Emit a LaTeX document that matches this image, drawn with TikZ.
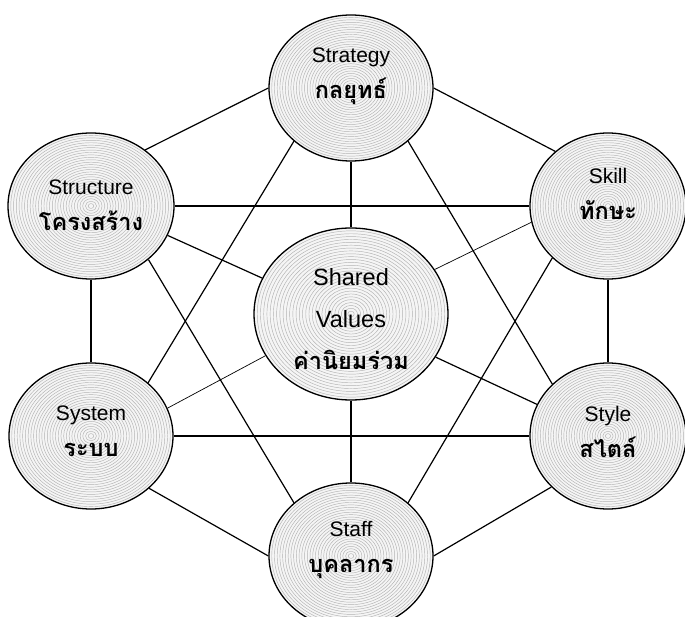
\documentclass[tikz,border=0pt]{standalone}
\usepackage{fontspec}
\setmainfont{Liberation Sans}
\newfontfamily\thai[Script=Thai]{Loma}
\usetikzlibrary{shapes.geometric,backgrounds}
\definecolor{ringfill}{gray}{0.96}
\definecolor{ringline}{gray}{0.70}
\tikzset{
  ov/.style 2 args={ellipse, draw=black, line width=1.3pt, fill=ringfill,
    inner sep=0pt, minimum width=2*#1pt, minimum height=2*#2pt,
    path picture={
      \foreach \k in {1,...,30}{
        \draw[ringline, line width=0.45pt] (path picture bounding box.center)
          ellipse [x radius={\k/30*#1pt}, y radius={\k/30*#2pt}];
      }
    }},
  lbl/.style={align=center, inner sep=0pt, font=\fontsize{21}{36}\selectfont},
  biglbl/.style={align=center, inner sep=0pt, font=\fontsize{23.5}{42}\selectfont},
  link/.style={line width=1.2pt, black},
  thinlink/.style={line width=0.7pt, black}
}
\newcommand{\thtext}[1]{{\thai\bfseries\fontsize{23.5}{36}\selectfont #1}}
\begin{document}
\begin{tikzpicture}[x=1pt,y=-1pt]
\clip (0,0) rectangle (685,617);
\node[ov={82}{73}] (strategy) at (351,88) {};
\node[ov={83}{73}] (structure) at (91,206) {};
\node[ov={78}{73}] (skill) at (608,206) {};
\node[ov={97}{86}] (shared) at (351,314) {};
\node[ov={82}{73}] (system) at (91,436) {};
\node[ov={78}{73}] (style) at (608,436) {};
\node[ov={82}{73}] (staff) at (351,556) {};
\node[lbl] (strategyT) at (351,76.5) {Strategy\\\thtext{กลยุทธ์}};
\node[lbl] (structureT) at (91,205.5) {Structure\\\thtext{โครงสร้าง}};
\node[lbl] (skillT) at (608,194) {Skill\\\thtext{ทักษะ}};
\node[biglbl] (sharedT) at (351,319) {Shared\\Values\\\thtext{ค่านิยมร่วม}};
\node[lbl] (systemT) at (91,431.5) {System\\\thtext{ระบบ}};
\node[lbl] (styleT) at (608,431.5) {Style\\\thtext{สไตล์}};
\node[lbl] (staffT) at (351,549.5) {Staff\\\thtext{บุคลากร}};
\begin{scope}[on background layer]
\fill[white] (0,0) rectangle (685,617);
% outer hexagon
\draw[link] (strategy.180) -- (structure.46);
\draw[link] (strategy.0) -- (skill.134);
\draw[link] (structure.south) -- (system.north);
\draw[link] (skill.south) -- (style.north);
\draw[link] (system.318) -- (staff.180);
\draw[link] (style.222) -- (staff.0);
% horizontals and verticals
\draw[link] (structure.east) -- (skill.west);
\draw[link] (system.east) -- (style.west);
\draw[link] (strategy.south) -- (shared.north);
\draw[link] (shared.south) -- (staff.north);
% triangles
\draw[link] (strategy.223) -- (system.43);
\draw[link] (strategy.317) -- (style.137);
\draw[link] (structure.317) -- (staff.137);
\draw[link] (skill.223) -- (staff.43);
% spokes to shared values
\draw[link] (structure.339) -- (shared.158);
\draw[thinlink] (skill.192) -- (shared.28);
\draw[thinlink] (system.20) -- (shared.206);
\draw[link] (style.156) -- (shared.333);
\end{scope}
\end{tikzpicture}
\end{document}
